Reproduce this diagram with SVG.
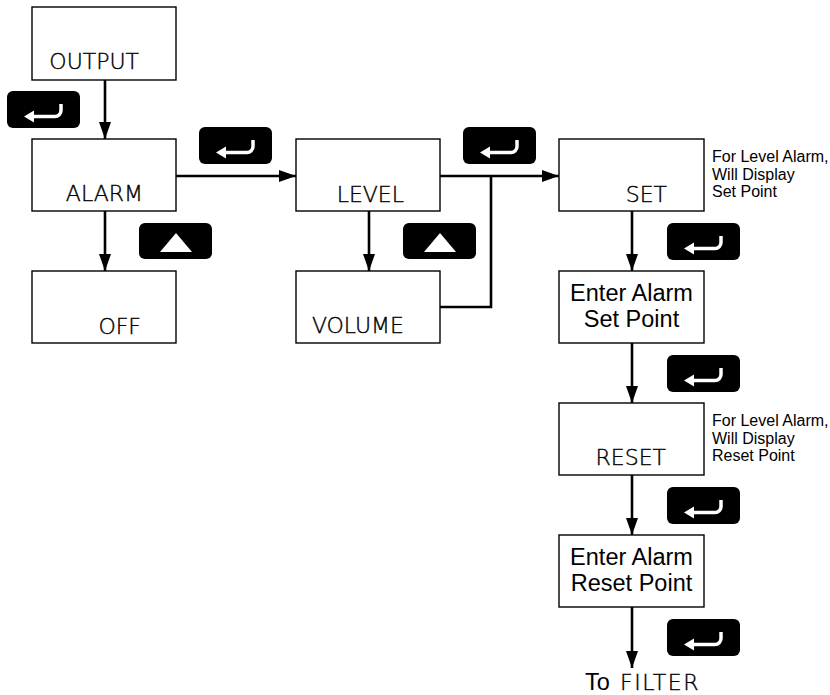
<svg xmlns="http://www.w3.org/2000/svg" xmlns:xlink="http://www.w3.org/1999/xlink" width="830" height="695" viewBox="0 0 830 695">
<style>
.box{fill:#fff;stroke:#000;stroke-width:1.4}
.lcd{font-family:"DejaVu Sans","Liberation Sans",sans-serif;font-weight:200;font-size:22px;fill:#000;stroke:#000;stroke-width:0.4;text-anchor:end}
.lbl{font-family:"Liberation Sans",Arial,sans-serif;font-size:23.5px;fill:#000;text-anchor:middle}
.note{font-family:"Liberation Sans",Arial,sans-serif;font-size:16px;fill:#000}
.conn{fill:none;stroke:#000;stroke-width:2.6}
.btn{fill:#000}
</style>
<defs>
<marker id="ah" markerUnits="userSpaceOnUse" markerWidth="18" markerHeight="12" refX="17" refY="6" orient="auto">
<path d="M0,0 L17,6 L0,12 z" fill="#000"/>
</marker>
<g id="enterBtn">
<rect class="btn" x="0" y="0" width="73" height="37" rx="6"/>
<path d="M25,25.5 H48 A6,6 0 0 0 54,19.5 V13" fill="none" stroke="#fff" stroke-width="3.5"/>
<path d="M17,25.5 L27,19.5 L27,31.5 z" fill="#fff"/>
</g>
<g id="upBtn">
<rect class="btn" x="0" y="0" width="73" height="36" rx="6"/>
<path d="M37,10 L53,29 L21,29 z" fill="#fff"/>
</g>
</defs>
<rect width="830" height="695" fill="#fff"/>

<g id="connectors">
<line class="conn" x1="105" y1="80" x2="105" y2="139" marker-end="url(#ah)"/>
<line class="conn" x1="105" y1="211" x2="105" y2="271" marker-end="url(#ah)"/>
<line class="conn" x1="176" y1="176" x2="296" y2="176" marker-end="url(#ah)"/>
<line class="conn" x1="369" y1="211" x2="369" y2="271" marker-end="url(#ah)"/>
<line class="conn" x1="440" y1="176" x2="559" y2="176" marker-end="url(#ah)"/>
<polyline class="conn" points="440,307 491,307 491,176"/>
<line class="conn" x1="632" y1="211" x2="632" y2="271" marker-end="url(#ah)"/>
<line class="conn" x1="632" y1="343" x2="632" y2="403" marker-end="url(#ah)"/>
<line class="conn" x1="632" y1="475" x2="632" y2="535" marker-end="url(#ah)"/>
<line class="conn" x1="632" y1="607" x2="632" y2="668" marker-end="url(#ah)"/>
</g>

<g id="buttons">
<use xlink:href="#enterBtn" x="7" y="91"/>
<use xlink:href="#enterBtn" x="199" y="127"/>
<use xlink:href="#enterBtn" x="463" y="127"/>
<use xlink:href="#upBtn" x="139" y="223"/>
<use xlink:href="#upBtn" x="403" y="223"/>
<use xlink:href="#enterBtn" x="667" y="223"/>
<use xlink:href="#enterBtn" x="667" y="355"/>
<use xlink:href="#enterBtn" x="667" y="487"/>
<use xlink:href="#enterBtn" x="667" y="619"/>
</g>

<g id="node-output">
<rect class="box" x="32" y="7" width="144" height="73"/>
<text class="lcd" x="139" y="69">OUTPUT</text>
</g>
<g id="node-alarm">
<rect class="box" x="32" y="139" width="144" height="72"/>
<text class="lcd" x="143" y="201">ALARM</text>
</g>
<g id="node-off">
<rect class="box" x="32" y="271" width="144" height="72"/>
<text class="lcd" x="141" y="334">OFF</text>
</g>
<g id="node-level">
<rect class="box" x="296" y="139" width="144" height="72"/>
<text class="lcd" x="404" y="202">LEVEL</text>
</g>
<g id="node-volume">
<rect class="box" x="296" y="271" width="144" height="72"/>
<text class="lcd" x="404" y="333">VOLUME</text>
</g>
<g id="node-set">
<rect class="box" x="559" y="139" width="145" height="72"/>
<text class="lcd" x="667" y="202">SET</text>
<text class="note" x="712" y="162">For Level Alarm,</text>
<text class="note" x="712" y="179.5">Will Display</text>
<text class="note" x="712" y="197">Set Point</text>
</g>
<g id="node-enter-set">
<rect class="box" x="559" y="271" width="145" height="72"/>
<text class="lbl" x="631.5" y="300.5">Enter Alarm</text>
<text class="lbl" x="631.5" y="327">Set Point</text>
</g>
<g id="node-reset">
<rect class="box" x="559" y="403" width="145" height="72"/>
<text class="lcd" x="666" y="465">RESET</text>
<text class="note" x="712" y="426">For Level Alarm,</text>
<text class="note" x="712" y="443.5">Will Display</text>
<text class="note" x="712" y="461">Reset Point</text>
</g>
<g id="node-enter-reset">
<rect class="box" x="559" y="535" width="145" height="72"/>
<text class="lbl" x="631.5" y="564.5">Enter Alarm</text>
<text class="lbl" x="631.5" y="591">Reset Point</text>
</g>
<g id="node-filter">
<text class="lbl" x="585" y="690" style="text-anchor:start">To</text>
<text class="lcd" x="620" y="690" style="text-anchor:start;letter-spacing:1.5px">FILTER</text>
</g>
</svg>
